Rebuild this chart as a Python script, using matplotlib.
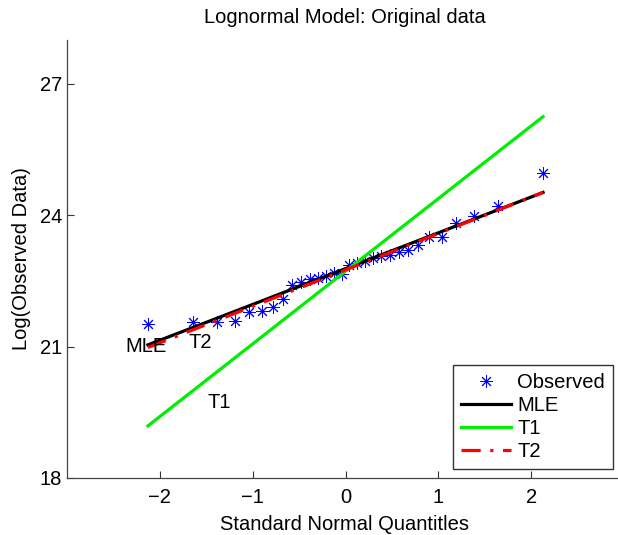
import matplotlib
matplotlib.use("Agg")
import matplotlib.pyplot as plt

plt.rcParams['font.family'] = ['Liberation Sans', 'DejaVu Sans']
plt.rcParams['axes.unicode_minus'] = True

# Standard normal quantiles (plotting positions for n=30)
quantiles = [-2.128, -1.645, -1.383, -1.192, -1.036, -0.903, -0.784, -0.674,
             -0.573, -0.477, -0.385, -0.297, -0.210, -0.126, -0.042,
             0.042, 0.126, 0.210, 0.297, 0.385, 0.477, 0.573, 0.674,
             0.784, 0.903, 1.036, 1.192, 1.383, 1.645, 2.128]
observed = [21.52, 21.57, 21.57, 21.58, 21.78, 21.82, 21.90, 22.09,
            22.40, 22.48, 22.55, 22.57, 22.62, 22.69, 22.66,
            22.86, 22.90, 22.95, 23.02, 23.06, 23.08, 23.17, 23.20,
            23.31, 23.51, 23.51, 23.83, 23.98, 24.20, 24.96]

line_x = [-2.128, 2.128]
mle_y = [21.04, 24.52]
t1_y = [19.19, 26.25]
t2_y = [20.98, 24.52]

labels = [("MLE", -2.37, 21.0), ("T2", -1.69, 21.09), ("T1", -1.49, 19.73)]

xticks = [-2, -1, 0, 1, 2]
yticks = [18, 21, 24, 27]

W, H = 618, 535
fig = plt.figure(figsize=(W / 100, H / 100), dpi=100)
ax = fig.add_axes([67 / W, 1 - 478 / H, (624 - 67) / W, (478 - 40) / H])

fs = 14.5
star = (8, 2, 0)
ax.plot(quantiles, observed, linestyle='none', marker=star, color='#0000ff',
        markersize=9, markeredgewidth=0.7, label='Observed', zorder=2)
ax.plot(line_x, mle_y, color='black', lw=2.3, label='MLE', zorder=3)
ax.plot(line_x, t1_y, color='#00ee00', lw=2.3, label='T1', zorder=3)
ax.plot(line_x, t2_y, color='#ff0000', lw=2.3, linestyle=(0, (6, 3, 1, 3)),
        label='T2', zorder=4)

for txt, x, y in labels:
    ax.text(x, y, txt, fontsize=fs, ha='left', va='center', zorder=5)

ax.set_xlim(-3, 3)
ax.set_ylim(18, 28)
ax.set_xticks(xticks)
ax.set_yticks(yticks)
ax.tick_params(direction='in', length=5, width=0.8, labelsize=fs, colors='#333333',
               labelcolor='black')
ax.tick_params(axis='x', pad=7)
for s in ['top', 'right']:
    ax.spines[s].set_visible(False)
for s in ['left', 'bottom']:
    ax.spines[s].set_color('#444444')
    ax.spines[s].set_linewidth(0.9)

ax.set_title('Lognormal Model: Original data', fontsize=fs, pad=12,
             x=(345 - 67) / (624 - 67))
ax.set_xlabel('Standard Normal Quantitles', fontsize=fs)
ax.xaxis.set_label_coords((345 - 67) / (624 - 67), -0.085)
ax.set_ylabel('Log(Observed Data)', fontsize=fs, labelpad=6)

leg = ax.legend(loc='upper left', bbox_to_anchor=(453 / W, 1 - 365 / H),
                bbox_transform=fig.transFigure, fontsize=fs, frameon=True,
                fancybox=False, edgecolor='black', handlelength=2.5,
                labelspacing=0.2, borderpad=0.4, handletextpad=0.3,
                borderaxespad=0)
leg.get_frame().set_linewidth(1.0)

fig.savefig('out.png', dpi=100)
